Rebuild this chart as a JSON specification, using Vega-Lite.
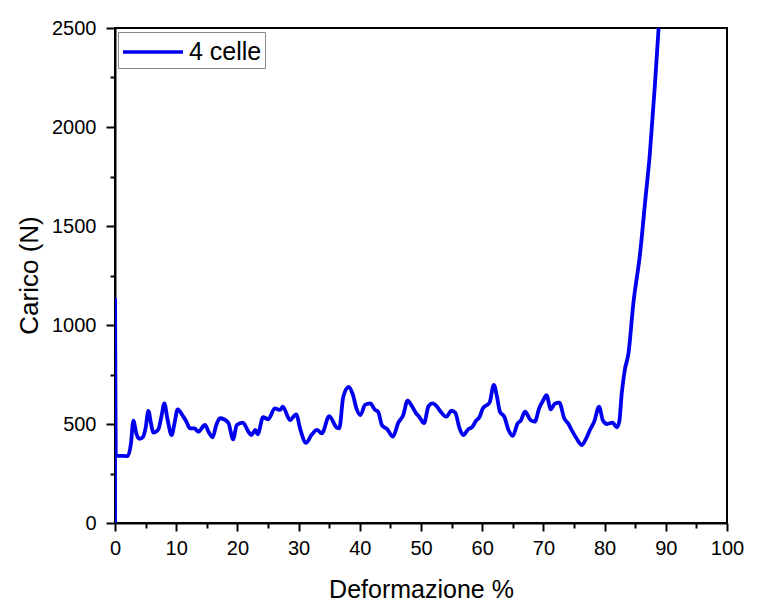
{
  "$schema": "https://vega.github.io/schema/vega-lite/v6.json",
  "autosize": "none",
  "width": 612,
  "height": 495,
  "padding": {"left": 115, "top": 28, "right": 44, "bottom": 92},
  "background": "white",
  "config": {
    "view": {"stroke": "black", "strokeWidth": 2},
    "font": "Liberation Sans",
    "axis": {
      "domainColor": "black",
      "domainWidth": 2,
      "tickColor": "black",
      "tickWidth": 2,
      "grid": false,
      "labelFont": "Liberation Sans",
      "labelFontSize": 20,
      "labelColor": "black",
      "titleFont": "Liberation Sans",
      "titleFontSize": 25,
      "titleFontWeight": "normal",
      "titleColor": "black"
    }
  },
  "data": {
    "values": [
      {"i":0,"x":0,"y":0,"s":"4 celle"},
      {"i":1,"x":0.01,"y":1130,"s":"4 celle"},
      {"i":2,"x":0.12,"y":340,"s":"4 celle"},
      {"i":3,"x":2.1,"y":338,"s":"4 celle"},
      {"i":4,"x":2.6,"y":400,"s":"4 celle"},
      {"i":5,"x":3.0,"y":517,"s":"4 celle"},
      {"i":6,"x":3.5,"y":450,"s":"4 celle"},
      {"i":7,"x":4.0,"y":425,"s":"4 celle"},
      {"i":8,"x":4.6,"y":436,"s":"4 celle"},
      {"i":9,"x":5.0,"y":480,"s":"4 celle"},
      {"i":10,"x":5.45,"y":566,"s":"4 celle"},
      {"i":11,"x":5.9,"y":500,"s":"4 celle"},
      {"i":12,"x":6.26,"y":456,"s":"4 celle"},
      {"i":13,"x":7.08,"y":473,"s":"4 celle"},
      {"i":14,"x":7.6,"y":540,"s":"4 celle"},
      {"i":15,"x":8.06,"y":604,"s":"4 celle"},
      {"i":16,"x":8.6,"y":520,"s":"4 celle"},
      {"i":17,"x":9.26,"y":444,"s":"4 celle"},
      {"i":18,"x":9.7,"y":500,"s":"4 celle"},
      {"i":19,"x":10.24,"y":574,"s":"4 celle"},
      {"i":20,"x":11.16,"y":537,"s":"4 celle"},
      {"i":21,"x":11.7,"y":510,"s":"4 celle"},
      {"i":22,"x":12.25,"y":478,"s":"4 celle"},
      {"i":23,"x":13.0,"y":478,"s":"4 celle"},
      {"i":24,"x":13.6,"y":461,"s":"4 celle"},
      {"i":25,"x":14.7,"y":495,"s":"4 celle"},
      {"i":26,"x":15.3,"y":460,"s":"4 celle"},
      {"i":27,"x":15.96,"y":433,"s":"4 celle"},
      {"i":28,"x":16.5,"y":490,"s":"4 celle"},
      {"i":29,"x":17.16,"y":529,"s":"4 celle"},
      {"i":30,"x":18.5,"y":507,"s":"4 celle"},
      {"i":31,"x":19.3,"y":423,"s":"4 celle"},
      {"i":32,"x":19.9,"y":495,"s":"4 celle"},
      {"i":33,"x":20.9,"y":507,"s":"4 celle"},
      {"i":34,"x":21.8,"y":461,"s":"4 celle"},
      {"i":35,"x":22.3,"y":444,"s":"4 celle"},
      {"i":36,"x":22.9,"y":470,"s":"4 celle"},
      {"i":37,"x":23.3,"y":448,"s":"4 celle"},
      {"i":38,"x":24.2,"y":534,"s":"4 celle"},
      {"i":39,"x":25.05,"y":524,"s":"4 celle"},
      {"i":40,"x":26.1,"y":579,"s":"4 celle"},
      {"i":41,"x":27.0,"y":571,"s":"4 celle"},
      {"i":42,"x":27.4,"y":588,"s":"4 celle"},
      {"i":43,"x":28.6,"y":520,"s":"4 celle"},
      {"i":44,"x":29.6,"y":549,"s":"4 celle"},
      {"i":45,"x":30.3,"y":470,"s":"4 celle"},
      {"i":46,"x":31.2,"y":405,"s":"4 celle"},
      {"i":47,"x":32.1,"y":444,"s":"4 celle"},
      {"i":48,"x":33.0,"y":470,"s":"4 celle"},
      {"i":49,"x":33.8,"y":453,"s":"4 celle"},
      {"i":50,"x":35.0,"y":540,"s":"4 celle"},
      {"i":51,"x":36.2,"y":483,"s":"4 celle"},
      {"i":52,"x":36.65,"y":478,"s":"4 celle"},
      {"i":53,"x":37.3,"y":638,"s":"4 celle"},
      {"i":54,"x":38.2,"y":688,"s":"4 celle"},
      {"i":55,"x":38.8,"y":655,"s":"4 celle"},
      {"i":56,"x":39.5,"y":574,"s":"4 celle"},
      {"i":57,"x":40.1,"y":545,"s":"4 celle"},
      {"i":58,"x":40.85,"y":596,"s":"4 celle"},
      {"i":59,"x":41.7,"y":604,"s":"4 celle"},
      {"i":60,"x":42.5,"y":571,"s":"4 celle"},
      {"i":61,"x":43.0,"y":562,"s":"4 celle"},
      {"i":62,"x":43.6,"y":495,"s":"4 celle"},
      {"i":63,"x":44.5,"y":473,"s":"4 celle"},
      {"i":64,"x":45.4,"y":436,"s":"4 celle"},
      {"i":65,"x":46.3,"y":507,"s":"4 celle"},
      {"i":66,"x":47.1,"y":545,"s":"4 celle"},
      {"i":67,"x":47.8,"y":618,"s":"4 celle"},
      {"i":68,"x":48.5,"y":591,"s":"4 celle"},
      {"i":69,"x":49.2,"y":554,"s":"4 celle"},
      {"i":70,"x":49.7,"y":537,"s":"4 celle"},
      {"i":71,"x":50.5,"y":504,"s":"4 celle"},
      {"i":72,"x":51.2,"y":588,"s":"4 celle"},
      {"i":73,"x":51.9,"y":604,"s":"4 celle"},
      {"i":74,"x":52.6,"y":588,"s":"4 celle"},
      {"i":75,"x":53.1,"y":567,"s":"4 celle"},
      {"i":76,"x":54.1,"y":537,"s":"4 celle"},
      {"i":77,"x":55.0,"y":567,"s":"4 celle"},
      {"i":78,"x":55.6,"y":557,"s":"4 celle"},
      {"i":79,"x":56.3,"y":478,"s":"4 celle"},
      {"i":80,"x":56.9,"y":444,"s":"4 celle"},
      {"i":81,"x":57.7,"y":473,"s":"4 celle"},
      {"i":82,"x":58.4,"y":486,"s":"4 celle"},
      {"i":83,"x":59.0,"y":517,"s":"4 celle"},
      {"i":84,"x":59.6,"y":537,"s":"4 celle"},
      {"i":85,"x":60.1,"y":579,"s":"4 celle"},
      {"i":86,"x":61.2,"y":608,"s":"4 celle"},
      {"i":87,"x":61.9,"y":697,"s":"4 celle"},
      {"i":88,"x":62.4,"y":640,"s":"4 celle"},
      {"i":89,"x":62.9,"y":562,"s":"4 celle"},
      {"i":90,"x":63.6,"y":537,"s":"4 celle"},
      {"i":91,"x":64.3,"y":470,"s":"4 celle"},
      {"i":92,"x":65.0,"y":440,"s":"4 celle"},
      {"i":93,"x":65.8,"y":504,"s":"4 celle"},
      {"i":94,"x":66.3,"y":517,"s":"4 celle"},
      {"i":95,"x":67.0,"y":562,"s":"4 celle"},
      {"i":96,"x":67.9,"y":520,"s":"4 celle"},
      {"i":97,"x":68.6,"y":512,"s":"4 celle"},
      {"i":98,"x":69.3,"y":579,"s":"4 celle"},
      {"i":99,"x":70.0,"y":621,"s":"4 celle"},
      {"i":100,"x":70.5,"y":646,"s":"4 celle"},
      {"i":101,"x":71.2,"y":574,"s":"4 celle"},
      {"i":102,"x":71.9,"y":604,"s":"4 celle"},
      {"i":103,"x":72.6,"y":608,"s":"4 celle"},
      {"i":104,"x":73.4,"y":529,"s":"4 celle"},
      {"i":105,"x":74.1,"y":500,"s":"4 celle"},
      {"i":106,"x":74.6,"y":470,"s":"4 celle"},
      {"i":107,"x":75.4,"y":428,"s":"4 celle"},
      {"i":108,"x":76.3,"y":394,"s":"4 celle"},
      {"i":109,"x":77.0,"y":428,"s":"4 celle"},
      {"i":110,"x":77.6,"y":470,"s":"4 celle"},
      {"i":111,"x":78.3,"y":512,"s":"4 celle"},
      {"i":112,"x":79.1,"y":588,"s":"4 celle"},
      {"i":113,"x":79.7,"y":520,"s":"4 celle"},
      {"i":114,"x":80.4,"y":500,"s":"4 celle"},
      {"i":115,"x":81.3,"y":507,"s":"4 celle"},
      {"i":116,"x":82.0,"y":483,"s":"4 celle"},
      {"i":117,"x":82.4,"y":512,"s":"4 celle"},
      {"i":118,"x":82.8,"y":655,"s":"4 celle"},
      {"i":119,"x":83.3,"y":773,"s":"4 celle"},
      {"i":120,"x":83.9,"y":857,"s":"4 celle"},
      {"i":121,"x":84.7,"y":1110,"s":"4 celle"},
      {"i":122,"x":85.8,"y":1362,"s":"4 celle"},
      {"i":123,"x":86.6,"y":1615,"s":"4 celle"},
      {"i":124,"x":87.4,"y":1867,"s":"4 celle"},
      {"i":125,"x":88.2,"y":2204,"s":"4 celle"},
      {"i":126,"x":88.85,"y":2510,"s":"4 celle"}
    ]
  },
  "mark": {"type": "line", "strokeWidth": 3.8, "clip": true, "strokeJoin": "round", "interpolate": "monotone"},
  "encoding": {
    "x": {
      "field": "x", "type": "quantitative",
      "scale": {"domain": [0, 100], "nice": false, "zero": false},
      "axis": {
        "title": "Deformazione %",
        "values": [0,5,10,15,20,25,30,35,40,45,50,55,60,65,70,75,80,85,90,95,100],
        "labelExpr": "datum.value % 10 == 0 ? datum.label : ''",
        "tickSize": {"condition": {"test": "datum.value % 10 == 0", "value": 8}, "value": 5},
        "labelPadding": 7,
        "labelFlush": false,
        "labelOverlap": false,
        "titlePadding": 19
      }
    },
    "y": {
      "field": "y", "type": "quantitative",
      "scale": {"domain": [0, 2500], "nice": false},
      "axis": {
        "title": "Carico (N)",
        "titleFontSize": 26,
        "values": [0,250,500,750,1000,1250,1500,1750,2000,2250,2500],
        "labelExpr": "datum.value % 500 == 0 ? datum.label : ''",
        "format": "d",
        "tickSize": {"condition": {"test": "datum.value % 500 == 0", "value": 9}, "value": 5},
        "labelPadding": 10,
        "labelFlush": false,
        "labelOverlap": false,
        "titleX": -86,
        "titleY": 247,
        "titleAngle": -90,
        "titleAlign": "center",
        "titleBaseline": "middle"
      }
    },
    "order": {"field": "i", "type": "quantitative"},
    "color": {
      "field": "s", "type": "nominal",
      "scale": {"domain": ["4 celle"], "range": ["#0000ee"]},
      "legend": {
        "title": null,
        "orient": "none",
        "legendX": 3,
        "legendY": 4,
        "symbolType": "M-1,0H3",
        "symbolSize": 900,
        "symbolStrokeWidth": 3.5,
        "labelFontSize": 25,
        "labelFont": "Liberation Sans",
        "labelColor": "black",
        "strokeColor": "#888888",
        "fillColor": "white",
        "padding": 3,
        "labelOffset": 34
      }
    }
  }
}
